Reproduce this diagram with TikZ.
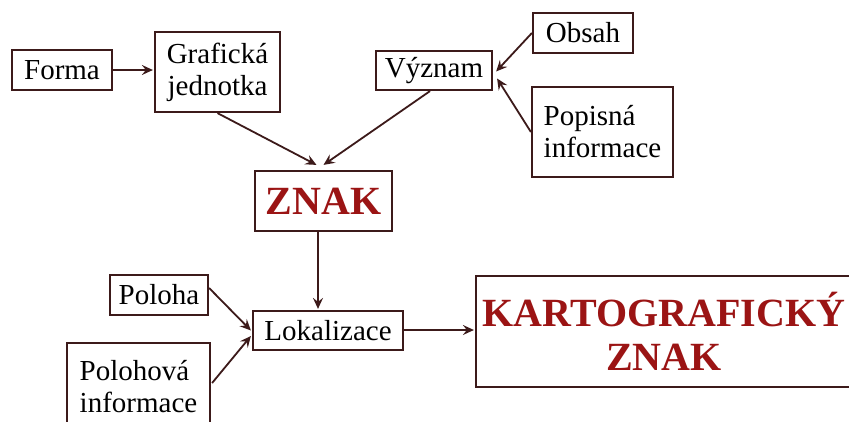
\documentclass[tikz,border=0pt]{standalone}
\usepackage{fontspec}
\setmainfont{Liberation Serif}
\usetikzlibrary{arrows.meta,calc}
\definecolor{lineC}{RGB}{60,26,26}
\definecolor{redC}{RGB}{155,20,20}
\tikzset{
  box/.style={draw=lineC, line width=2.2pt, fill=white, inner sep=0pt, align=center,
    font=\fontsize{29}{32}\selectfont},
  redtext/.style={text=redC, font=\fontsize{40}{44}\bfseries\selectfont},
  arr/.style={draw=lineC, line width=1.8pt, -{Stealth[length=11pt,width=10pt,inset=4pt]}}
}
\begin{document}
\begin{tikzpicture}[x=1pt,y=-1pt]
\useasboundingbox[fill=white] (0,0) rectangle (849,421);
\node[box, minimum width=100pt, minimum height=40pt] (forma) at (62,70) {Forma};
\node[box, minimum width=125pt, minimum height=80pt] (graf) at (217.5,72) {Grafická\\jednotka};
\node[box, minimum width=116pt, minimum height=39pt] (vyz) at (434,70.5) {Význam};
\node[box, minimum width=100pt, minimum height=40pt] (obsah) at (583,33) {Obsah};
\node[box, minimum width=141pt, minimum height=90pt, align=left] (popis) at (602.5,132) {Popisná\\informace};
\node[box, redtext, minimum width=137pt, minimum height=60pt] (znak) at (323.5,201) {ZNAK};
\node[box, minimum width=98pt, minimum height=40pt] (poloha) at (159,295) {Poloha};
\node[box, minimum width=150pt, minimum height=39pt] (lok) at (328,330.5) {Lokalizace};
\node[box, minimum width=143pt, minimum height=87pt, align=left] (polinf) at (138.5,386.5) {Polohová\\informace};
\node[box, redtext, minimum width=376pt, minimum height=111pt] (kart) at (664,331.5) {KARTOGRAFICKÝ\\ZNAK};

\draw[arr] (forma.east) -- ($(graf.west)+(-1,-2)$);
\draw[arr] (graf.south) -- ($(znak.north)+(-7,-5)$);
\draw[arr] ($(vyz.south)+(-4,0)$) -- ($(znak.north)+(0,-5)$);
\draw[arr] (obsah.west) -- ($(vyz.east)+(3,1)$);
\draw[arr] (popis.west) -- ($(vyz.east)+(4,8)$);
\draw[arr] ($(znak.south)+(-5.5,0)$) -- ($(lok.north)+(-10,-1)$);
\draw[arr] ($(poloha.east)+(0,-7)$) -- ($(lok.west)+(-1,0)$);
\draw[arr] ($(polinf.east)+(1,-3.5)$) -- ($(lok.west)+(-1,5.5)$);
\draw[arr] ($(lok.east)+(0,-0.5)$) -- ($(kart.west)+(-1,-1.5)$);
\end{tikzpicture}
\end{document}
